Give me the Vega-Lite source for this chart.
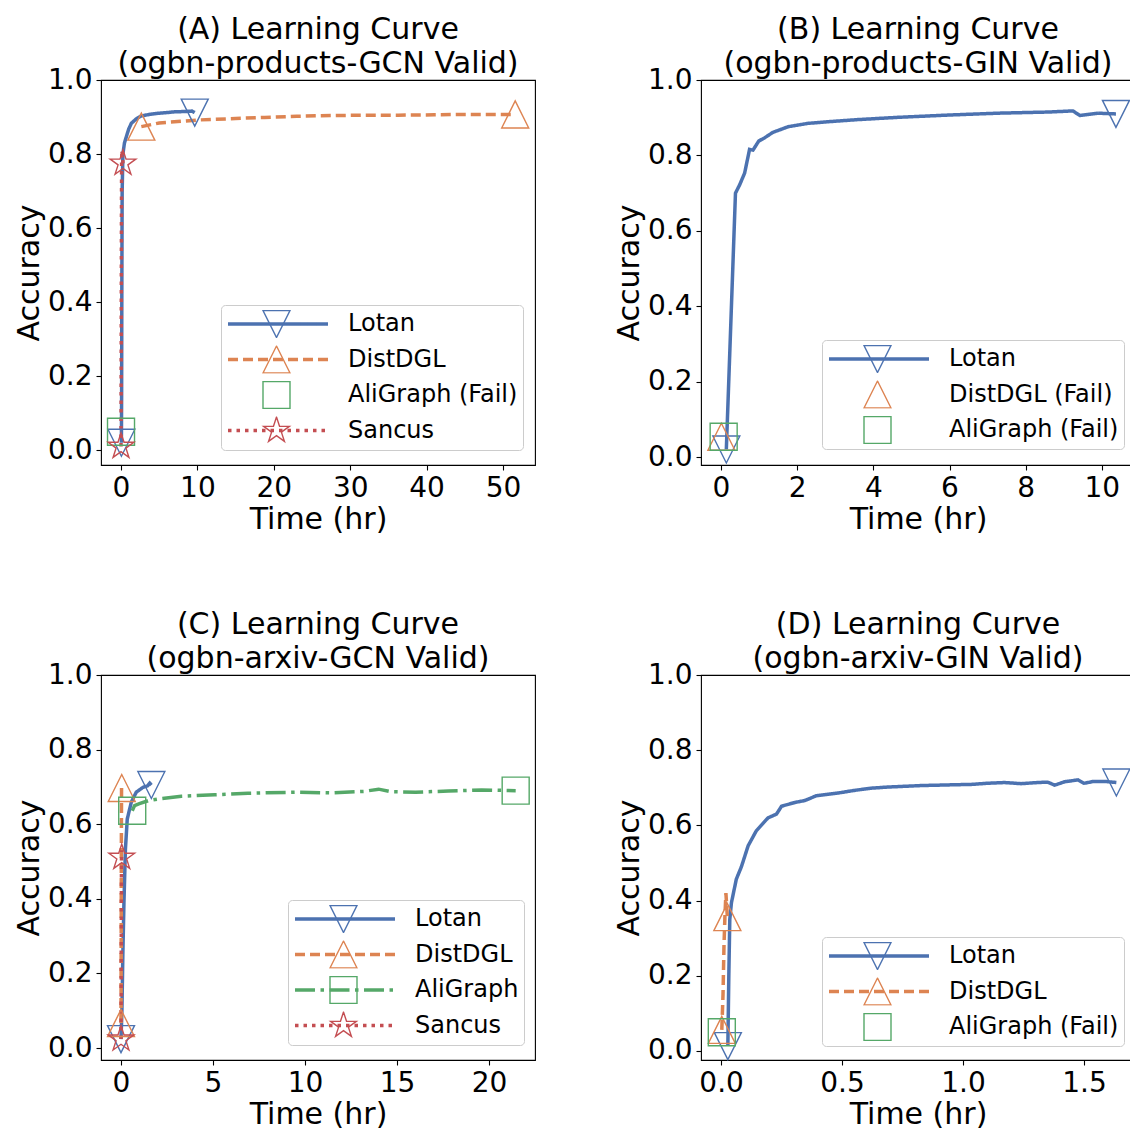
{
  "$schema": "https://vega.github.io/schema/vega-lite/v6.json",
  "padding": {"left": 13, "top": 13, "right": 0, "bottom": 0},
  "bounds": "flush",
  "columns": 2,
  "spacing": {"row": 210, "column": 166},
  "datasets": {
    "panelA": [
      {"series": "Lotan", "t": 0.05, "acc": 0.02},
      {"series": "Lotan", "t": 0.08, "acc": 0.15},
      {"series": "Lotan", "t": 0.11, "acc": 0.45},
      {"series": "Lotan", "t": 0.15, "acc": 0.7},
      {"series": "Lotan", "t": 0.25, "acc": 0.8},
      {"series": "Lotan", "t": 0.45, "acc": 0.83},
      {"series": "Lotan", "t": 0.7, "acc": 0.847},
      {"series": "Lotan", "t": 1.0, "acc": 0.867},
      {"series": "Lotan", "t": 1.35, "acc": 0.883},
      {"series": "Lotan", "t": 2.0, "acc": 0.895},
      {"series": "Lotan", "t": 2.66, "acc": 0.903},
      {"series": "Lotan", "t": 3.7, "acc": 0.907},
      {"series": "Lotan", "t": 4.8, "acc": 0.91},
      {"series": "Lotan", "t": 6.0, "acc": 0.912},
      {"series": "Lotan", "t": 7.0, "acc": 0.914},
      {"series": "Lotan", "t": 8.5, "acc": 0.915},
      {"series": "Lotan", "t": 9.3, "acc": 0.916},
      {"series": "Lotan", "t": 9.65, "acc": 0.912},
      {"series": "DistDGL", "t": 2.66, "acc": 0.874},
      {"series": "DistDGL", "t": 5.0, "acc": 0.884},
      {"series": "DistDGL", "t": 10.1, "acc": 0.892},
      {"series": "DistDGL", "t": 15.0, "acc": 0.896},
      {"series": "DistDGL", "t": 18.8, "acc": 0.899},
      {"series": "DistDGL", "t": 23.0, "acc": 0.902},
      {"series": "DistDGL", "t": 27.5, "acc": 0.904},
      {"series": "DistDGL", "t": 32.0, "acc": 0.905},
      {"series": "DistDGL", "t": 36.3, "acc": 0.905},
      {"series": "DistDGL", "t": 41.0, "acc": 0.906},
      {"series": "DistDGL", "t": 45.0, "acc": 0.907},
      {"series": "DistDGL", "t": 51.6, "acc": 0.907},
      {"series": "AliGraph (Fail)", "t": 0.0, "acc": 0.05},
      {"series": "Sancus", "t": 0.0, "acc": 0.01},
      {"series": "Sancus", "t": 0.02, "acc": 0.2},
      {"series": "Sancus", "t": 0.04, "acc": 0.45},
      {"series": "Sancus", "t": 0.06, "acc": 0.65},
      {"series": "Sancus", "t": 0.08, "acc": 0.78},
      {"series": "Sancus", "t": 0.12, "acc": 0.81},
      {"series": "Sancus", "t": 0.26, "acc": 0.775}
    ],
    "panelB": [
      {"series": "Lotan", "t": 0.14, "acc": 0.02},
      {"series": "Lotan", "t": 0.38, "acc": 0.7},
      {"series": "Lotan", "t": 0.49, "acc": 0.722},
      {"series": "Lotan", "t": 0.62, "acc": 0.753},
      {"series": "Lotan", "t": 0.75, "acc": 0.816},
      {"series": "Lotan", "t": 0.84, "acc": 0.814},
      {"series": "Lotan", "t": 0.99, "acc": 0.838},
      {"series": "Lotan", "t": 1.15, "acc": 0.847},
      {"series": "Lotan", "t": 1.36, "acc": 0.861},
      {"series": "Lotan", "t": 1.76, "acc": 0.876},
      {"series": "Lotan", "t": 2.28, "acc": 0.885},
      {"series": "Lotan", "t": 2.9, "acc": 0.89},
      {"series": "Lotan", "t": 3.6, "acc": 0.895},
      {"series": "Lotan", "t": 4.65, "acc": 0.901},
      {"series": "Lotan", "t": 5.96, "acc": 0.907},
      {"series": "Lotan", "t": 7.27, "acc": 0.912},
      {"series": "Lotan", "t": 8.58, "acc": 0.915},
      {"series": "Lotan", "t": 9.24, "acc": 0.918},
      {"series": "Lotan", "t": 9.42, "acc": 0.906},
      {"series": "Lotan", "t": 9.9, "acc": 0.912},
      {"series": "Lotan", "t": 10.37, "acc": 0.91},
      {"series": "DistDGL (Fail)", "t": 0.01, "acc": 0.054},
      {"series": "AliGraph (Fail)", "t": 0.07, "acc": 0.054}
    ],
    "panelC": [
      {"series": "Lotan", "t": 0.0, "acc": 0.024},
      {"series": "Lotan", "t": 0.05, "acc": 0.1},
      {"series": "Lotan", "t": 0.1, "acc": 0.25},
      {"series": "Lotan", "t": 0.16, "acc": 0.39},
      {"series": "Lotan", "t": 0.24, "acc": 0.533},
      {"series": "Lotan", "t": 0.34, "acc": 0.614},
      {"series": "Lotan", "t": 0.56, "acc": 0.659},
      {"series": "Lotan", "t": 0.83, "acc": 0.686},
      {"series": "Lotan", "t": 1.2, "acc": 0.699},
      {"series": "Lotan", "t": 1.45, "acc": 0.703},
      {"series": "Lotan", "t": 1.56, "acc": 0.71},
      {"series": "Lotan", "t": 1.65, "acc": 0.705},
      {"series": "DistDGL", "t": 0.0, "acc": 0.067},
      {"series": "DistDGL", "t": 0.01, "acc": 0.3},
      {"series": "DistDGL", "t": 0.02, "acc": 0.55},
      {"series": "DistDGL", "t": 0.03, "acc": 0.7},
      {"series": "DistDGL", "t": 0.04, "acc": 0.697},
      {"series": "AliGraph", "t": 0.61, "acc": 0.636},
      {"series": "AliGraph", "t": 0.74, "acc": 0.65},
      {"series": "AliGraph", "t": 1.0, "acc": 0.655},
      {"series": "AliGraph", "t": 1.47, "acc": 0.663},
      {"series": "AliGraph", "t": 2.2, "acc": 0.669},
      {"series": "AliGraph", "t": 3.28, "acc": 0.675},
      {"series": "AliGraph", "t": 5.09, "acc": 0.679},
      {"series": "AliGraph", "t": 6.9, "acc": 0.683},
      {"series": "AliGraph", "t": 9.6, "acc": 0.686},
      {"series": "AliGraph", "t": 11.4, "acc": 0.684},
      {"series": "AliGraph", "t": 13.2, "acc": 0.688},
      {"series": "AliGraph", "t": 14.0, "acc": 0.694},
      {"series": "AliGraph", "t": 14.7, "acc": 0.687},
      {"series": "AliGraph", "t": 16.0, "acc": 0.686},
      {"series": "AliGraph", "t": 17.8, "acc": 0.689},
      {"series": "AliGraph", "t": 19.6, "acc": 0.692},
      {"series": "AliGraph", "t": 21.45, "acc": 0.69},
      {"series": "Sancus", "t": 0.0, "acc": 0.024},
      {"series": "Sancus", "t": 0.01, "acc": 0.2},
      {"series": "Sancus", "t": 0.02, "acc": 0.4},
      {"series": "Sancus", "t": 0.03, "acc": 0.53},
      {"series": "Sancus", "t": 0.04, "acc": 0.511}
    ],
    "panelD": [
      {"series": "Lotan", "t": 0.028, "acc": 0.013},
      {"series": "Lotan", "t": 0.032, "acc": 0.2},
      {"series": "Lotan", "t": 0.036, "acc": 0.35},
      {"series": "Lotan", "t": 0.043, "acc": 0.395},
      {"series": "Lotan", "t": 0.063, "acc": 0.457},
      {"series": "Lotan", "t": 0.084, "acc": 0.49},
      {"series": "Lotan", "t": 0.112, "acc": 0.546},
      {"series": "Lotan", "t": 0.146, "acc": 0.586},
      {"series": "Lotan", "t": 0.194, "acc": 0.62},
      {"series": "Lotan", "t": 0.229, "acc": 0.63},
      {"series": "Lotan", "t": 0.25, "acc": 0.651},
      {"series": "Lotan", "t": 0.305, "acc": 0.661},
      {"series": "Lotan", "t": 0.346, "acc": 0.666},
      {"series": "Lotan", "t": 0.394, "acc": 0.679},
      {"series": "Lotan", "t": 0.483, "acc": 0.686},
      {"series": "Lotan", "t": 0.55, "acc": 0.693},
      {"series": "Lotan", "t": 0.621, "acc": 0.699},
      {"series": "Lotan", "t": 0.69, "acc": 0.702},
      {"series": "Lotan", "t": 0.759, "acc": 0.704},
      {"series": "Lotan", "t": 0.83, "acc": 0.706},
      {"series": "Lotan", "t": 0.897, "acc": 0.707},
      {"series": "Lotan", "t": 0.96, "acc": 0.708},
      {"series": "Lotan", "t": 1.034, "acc": 0.709},
      {"series": "Lotan", "t": 1.1, "acc": 0.712},
      {"series": "Lotan", "t": 1.172, "acc": 0.714},
      {"series": "Lotan", "t": 1.24, "acc": 0.711},
      {"series": "Lotan", "t": 1.31, "acc": 0.714},
      {"series": "Lotan", "t": 1.35, "acc": 0.715},
      {"series": "Lotan", "t": 1.379, "acc": 0.707},
      {"series": "Lotan", "t": 1.42, "acc": 0.716},
      {"series": "Lotan", "t": 1.475, "acc": 0.721},
      {"series": "Lotan", "t": 1.5, "acc": 0.712},
      {"series": "Lotan", "t": 1.54, "acc": 0.717},
      {"series": "Lotan", "t": 1.586, "acc": 0.717},
      {"series": "Lotan", "t": 1.634, "acc": 0.714},
      {"series": "DistDGL", "t": 0.003, "acc": 0.056},
      {"series": "DistDGL", "t": 0.008, "acc": 0.15},
      {"series": "DistDGL", "t": 0.012, "acc": 0.28},
      {"series": "DistDGL", "t": 0.016, "acc": 0.36},
      {"series": "DistDGL", "t": 0.02, "acc": 0.42},
      {"series": "DistDGL", "t": 0.026, "acc": 0.356},
      {"series": "AliGraph (Fail)", "t": 0.003, "acc": 0.05}
    ]
  },
  "concat": [
    {
      "width": 434, "height": 385,
      "title": {"text": ["(A) Learning Curve", "(ogbn-products-GCN Valid)"]},
      "data": {"name": "panelA"},
      "encoding": {
        "x": {"field": "t", "type": "quantitative", "title": "Time (hr)",
              "scale": {"domain": [-2.62, 54.19], "nice": false, "zero": false},
              "axis": {"values": [0, 10, 20, 30, 40, 50], "format": "d"}},
        "y": {"field": "acc", "type": "quantitative", "title": "Accuracy",
              "scale": {"domain": [-0.04, 1.0], "nice": false, "zero": false},
              "axis": {"values": [0, 0.2, 0.4, 0.6, 0.8, 1.0], "format": ".1f"}}
      },
      "layer": [
        {
          "mark": {"type": "line", "strokeWidth": 3.5},
          "encoding": {
            "color": {"field": "series", "type": "nominal",
              "scale": {"domain": ["Lotan", "DistDGL", "AliGraph (Fail)", "Sancus"], "range": ["#4C72B0", "#DD8452", "#55A868", "#C44E52"]},
              "legend": {"orient": "none", "legendX": 120, "legendY": 225, "strokeColor": "#cccccc", "cornerRadius": 4}},
            "strokeDash": {"field": "series", "type": "nominal",
              "scale": {"domain": ["Lotan", "DistDGL", "AliGraph (Fail)", "Sancus"], "range": [[1, 0], [10, 5], [0, 1000], [3.5, 5]]},
              "legend": {"orient": "none", "legendX": 120, "legendY": 225, "strokeColor": "#cccccc", "cornerRadius": 4}}
          }
        },
        {
          "transform": [
            {"joinaggregate": [{"op": "min", "field": "t", "as": "tmin"}, {"op": "max", "field": "t", "as": "tmax"}], "groupby": ["series"]},
            {"filter": "datum.t == datum.tmin || datum.t == datum.tmax"}
          ],
          "mark": {"type": "point", "filled": false, "strokeWidth": 1.4, "size": 729, "opacity": 1},
          "encoding": {
            "stroke": {"field": "series", "type": "nominal",
              "scale": {"domain": ["Lotan", "DistDGL", "AliGraph (Fail)", "Sancus", " "], "range": ["#4C72B0", "#DD8452", "#55A868", "#C44E52", "#ffffff"]},
              "legend": {"orient": "none", "legendX": 120, "legendY": 225, "symbolSize": 729, "symbolStrokeWidth": 1.4, "symbolOffset": 36, "labelExpr": "''", "strokeColor": null}},
            "shape": {"field": "series", "type": "nominal",
              "scale": {"domain": ["Lotan", "DistDGL", "AliGraph (Fail)", "Sancus", " "], "range": ["M-1,-1L1,-1L0,1Z", "M0,-1L-1,1L1,1Z", "M-1,-1L1,-1L1,1L-1,1Z", "M0,-1L-0.2245,-0.309L-0.9511,-0.309L-0.3633,0.118L-0.5878,0.809L0,0.382L0.5878,0.809L0.3633,0.118L0.9511,-0.309L0.2245,-0.309Z", "M0,0"]},
              "legend": {"orient": "none", "legendX": 120, "legendY": 225, "symbolSize": 729, "symbolStrokeWidth": 1.4, "symbolOffset": 36, "labelExpr": "''", "strokeColor": null}}
          }
        }
      ]
    },
    {
      "width": 434, "height": 385,
      "title": {"text": ["(B) Learning Curve", "(ogbn-products-GIN Valid)"]},
      "data": {"name": "panelB"},
      "encoding": {
        "x": {"field": "t", "type": "quantitative", "title": "Time (hr)",
              "scale": {"domain": [-0.525, 10.87], "nice": false, "zero": false},
              "axis": {"values": [0, 2, 4, 6, 8, 10], "format": "d"}},
        "y": {"field": "acc", "type": "quantitative", "title": "Accuracy",
              "scale": {"domain": [-0.021, 1.0], "nice": false, "zero": false},
              "axis": {"values": [0, 0.2, 0.4, 0.6, 0.8, 1.0], "format": ".1f"}}
      },
      "layer": [
        {
          "mark": {"type": "line", "strokeWidth": 3.5},
          "encoding": {
            "color": {"field": "series", "type": "nominal",
              "scale": {"domain": ["Lotan", "DistDGL (Fail)", "AliGraph (Fail)"], "range": ["#4C72B0", "#DD8452", "#55A868"]},
              "legend": {"orient": "none", "legendX": 121, "legendY": 260, "strokeColor": "#cccccc", "cornerRadius": 4}},
            "strokeDash": {"field": "series", "type": "nominal",
              "scale": {"domain": ["Lotan", "DistDGL (Fail)", "AliGraph (Fail)"], "range": [[1, 0], [0, 1000], [0, 1000]]},
              "legend": {"orient": "none", "legendX": 121, "legendY": 260, "strokeColor": "#cccccc", "cornerRadius": 4}}
          }
        },
        {
          "transform": [
            {"joinaggregate": [{"op": "min", "field": "t", "as": "tmin"}, {"op": "max", "field": "t", "as": "tmax"}], "groupby": ["series"]},
            {"filter": "datum.t == datum.tmin || datum.t == datum.tmax"}
          ],
          "mark": {"type": "point", "filled": false, "strokeWidth": 1.4, "size": 729, "opacity": 1},
          "encoding": {
            "stroke": {"field": "series", "type": "nominal",
              "scale": {"domain": ["Lotan", "DistDGL (Fail)", "AliGraph (Fail)", " "], "range": ["#4C72B0", "#DD8452", "#55A868", "#ffffff"]},
              "legend": {"orient": "none", "legendX": 121, "legendY": 260, "symbolSize": 729, "symbolStrokeWidth": 1.4, "symbolOffset": 36, "labelExpr": "''", "strokeColor": null}},
            "shape": {"field": "series", "type": "nominal",
              "scale": {"domain": ["Lotan", "DistDGL (Fail)", "AliGraph (Fail)", " "], "range": ["M-1,-1L1,-1L0,1Z", "M0,-1L-1,1L1,1Z", "M-1,-1L1,-1L1,1L-1,1Z", "M0,0"]},
              "legend": {"orient": "none", "legendX": 121, "legendY": 260, "symbolSize": 729, "symbolStrokeWidth": 1.4, "symbolOffset": 36, "labelExpr": "''", "strokeColor": null}}
          }
        }
      ]
    },
    {
      "width": 434, "height": 385,
      "title": {"text": ["(C) Learning Curve", "(ogbn-arxiv-GCN Valid)"]},
      "data": {"name": "panelC"},
      "encoding": {
        "x": {"field": "t", "type": "quantitative", "title": "Time (hr)",
              "scale": {"domain": [-1.087, 22.5], "nice": false, "zero": false},
              "axis": {"values": [0, 5, 10, 15, 20], "format": "d"}},
        "y": {"field": "acc", "type": "quantitative", "title": "Accuracy",
              "scale": {"domain": [-0.032, 1.0], "nice": false, "zero": false},
              "axis": {"values": [0, 0.2, 0.4, 0.6, 0.8, 1.0], "format": ".1f"}}
      },
      "layer": [
        {
          "mark": {"type": "line", "strokeWidth": 3.5},
          "encoding": {
            "color": {"field": "series", "type": "nominal",
              "scale": {"domain": ["Lotan", "DistDGL", "AliGraph", "Sancus"], "range": ["#4C72B0", "#DD8452", "#55A868", "#C44E52"]},
              "legend": {"orient": "none", "legendX": 187, "legendY": 225, "strokeColor": "#cccccc", "cornerRadius": 4}},
            "strokeDash": {"field": "series", "type": "nominal",
              "scale": {"domain": ["Lotan", "DistDGL", "AliGraph", "Sancus"], "range": [[1, 0], [10, 5], [20, 5.5, 3.5, 5.5], [3.5, 5]]},
              "legend": {"orient": "none", "legendX": 187, "legendY": 225, "strokeColor": "#cccccc", "cornerRadius": 4}}
          }
        },
        {
          "transform": [
            {"joinaggregate": [{"op": "min", "field": "t", "as": "tmin"}, {"op": "max", "field": "t", "as": "tmax"}], "groupby": ["series"]},
            {"filter": "datum.t == datum.tmin || datum.t == datum.tmax"}
          ],
          "mark": {"type": "point", "filled": false, "strokeWidth": 1.4, "size": 729, "opacity": 1},
          "encoding": {
            "stroke": {"field": "series", "type": "nominal",
              "scale": {"domain": ["Lotan", "DistDGL", "AliGraph", "Sancus", " "], "range": ["#4C72B0", "#DD8452", "#55A868", "#C44E52", "#ffffff"]},
              "legend": {"orient": "none", "legendX": 187, "legendY": 225, "symbolSize": 729, "symbolStrokeWidth": 1.4, "symbolOffset": 36, "labelExpr": "''", "strokeColor": null}},
            "shape": {"field": "series", "type": "nominal",
              "scale": {"domain": ["Lotan", "DistDGL", "AliGraph", "Sancus", " "], "range": ["M-1,-1L1,-1L0,1Z", "M0,-1L-1,1L1,1Z", "M-1,-1L1,-1L1,1L-1,1Z", "M0,-1L-0.2245,-0.309L-0.9511,-0.309L-0.3633,0.118L-0.5878,0.809L0,0.382L0.5878,0.809L0.3633,0.118L0.9511,-0.309L0.2245,-0.309Z", "M0,0"]},
              "legend": {"orient": "none", "legendX": 187, "legendY": 225, "symbolSize": 729, "symbolStrokeWidth": 1.4, "symbolOffset": 36, "labelExpr": "''", "strokeColor": null}}
          }
        }
      ]
    },
    {
      "width": 434, "height": 385,
      "title": {"text": ["(D) Learning Curve", "(ogbn-arxiv-GIN Valid)"]},
      "data": {"name": "panelD"},
      "encoding": {
        "x": {"field": "t", "type": "quantitative", "title": "Time (hr)",
              "scale": {"domain": [-0.083, 1.711], "nice": false, "zero": false},
              "axis": {"values": [0, 0.5, 1.0, 1.5], "format": ".1f"}},
        "y": {"field": "acc", "type": "quantitative", "title": "Accuracy",
              "scale": {"domain": [-0.024, 1.0], "nice": false, "zero": false},
              "axis": {"values": [0, 0.2, 0.4, 0.6, 0.8, 1.0], "format": ".1f"}}
      },
      "layer": [
        {
          "mark": {"type": "line", "strokeWidth": 3.5},
          "encoding": {
            "color": {"field": "series", "type": "nominal",
              "scale": {"domain": ["Lotan", "DistDGL", "AliGraph (Fail)"], "range": ["#4C72B0", "#DD8452", "#55A868"]},
              "legend": {"orient": "none", "legendX": 121, "legendY": 262, "strokeColor": "#cccccc", "cornerRadius": 4}},
            "strokeDash": {"field": "series", "type": "nominal",
              "scale": {"domain": ["Lotan", "DistDGL", "AliGraph (Fail)"], "range": [[1, 0], [10, 5], [0, 1000]]},
              "legend": {"orient": "none", "legendX": 121, "legendY": 262, "strokeColor": "#cccccc", "cornerRadius": 4}}
          }
        },
        {
          "transform": [
            {"joinaggregate": [{"op": "min", "field": "t", "as": "tmin"}, {"op": "max", "field": "t", "as": "tmax"}], "groupby": ["series"]},
            {"filter": "datum.t == datum.tmin || datum.t == datum.tmax"}
          ],
          "mark": {"type": "point", "filled": false, "strokeWidth": 1.4, "size": 729, "opacity": 1},
          "encoding": {
            "stroke": {"field": "series", "type": "nominal",
              "scale": {"domain": ["Lotan", "DistDGL", "AliGraph (Fail)", " "], "range": ["#4C72B0", "#DD8452", "#55A868", "#ffffff"]},
              "legend": {"orient": "none", "legendX": 121, "legendY": 262, "symbolSize": 729, "symbolStrokeWidth": 1.4, "symbolOffset": 36, "labelExpr": "''", "strokeColor": null}},
            "shape": {"field": "series", "type": "nominal",
              "scale": {"domain": ["Lotan", "DistDGL", "AliGraph (Fail)", " "], "range": ["M-1,-1L1,-1L0,1Z", "M0,-1L-1,1L1,1Z", "M-1,-1L1,-1L1,1L-1,1Z", "M0,0"]},
              "legend": {"orient": "none", "legendX": 121, "legendY": 262, "symbolSize": 729, "symbolStrokeWidth": 1.4, "symbolOffset": 36, "labelExpr": "''", "strokeColor": null}}
          }
        }
      ]
    }
  ],
  "resolve": {
    "scale": {"x": "independent", "y": "independent", "color": "independent", "strokeDash": "independent", "stroke": "independent", "shape": "independent"},
    "legend": {"color": "independent", "strokeDash": "independent", "stroke": "independent", "shape": "independent"}
  },
  "config": {
    "font": "DejaVu Sans",
    "view": {"stroke": "black", "strokeWidth": 1.1},
    "axis": {
      "grid": false, "domain": false,
      "tickColor": "black", "tickSize": 5, "tickWidth": 1.1,
      "labelFontSize": 28, "labelColor": "black", "labelPadding": 4, "labelFlush": false, "labelOverlap": false,
      "titleFontSize": 30, "titleFontWeight": "normal", "titleColor": "black"
    },
    "axisX": {"titlePadding": 2},
    "axisY": {"titlePadding": 3},
    "title": {"fontSize": 30, "fontWeight": "normal", "color": "black", "lineHeight": 34.5, "frame": "group", "anchor": "middle", "offset": -13},
    "legend": {
      "title": null, "labelFontSize": 24, "labelColor": "black", "labelLimit": 400, "labelOffset": 18,
      "symbolType": "stroke", "symbolSize": 10000, "symbolStrokeWidth": 3.5,
      "padding": 5, "clipHeight": 28, "rowPadding": 7.5
    }
  }
}
